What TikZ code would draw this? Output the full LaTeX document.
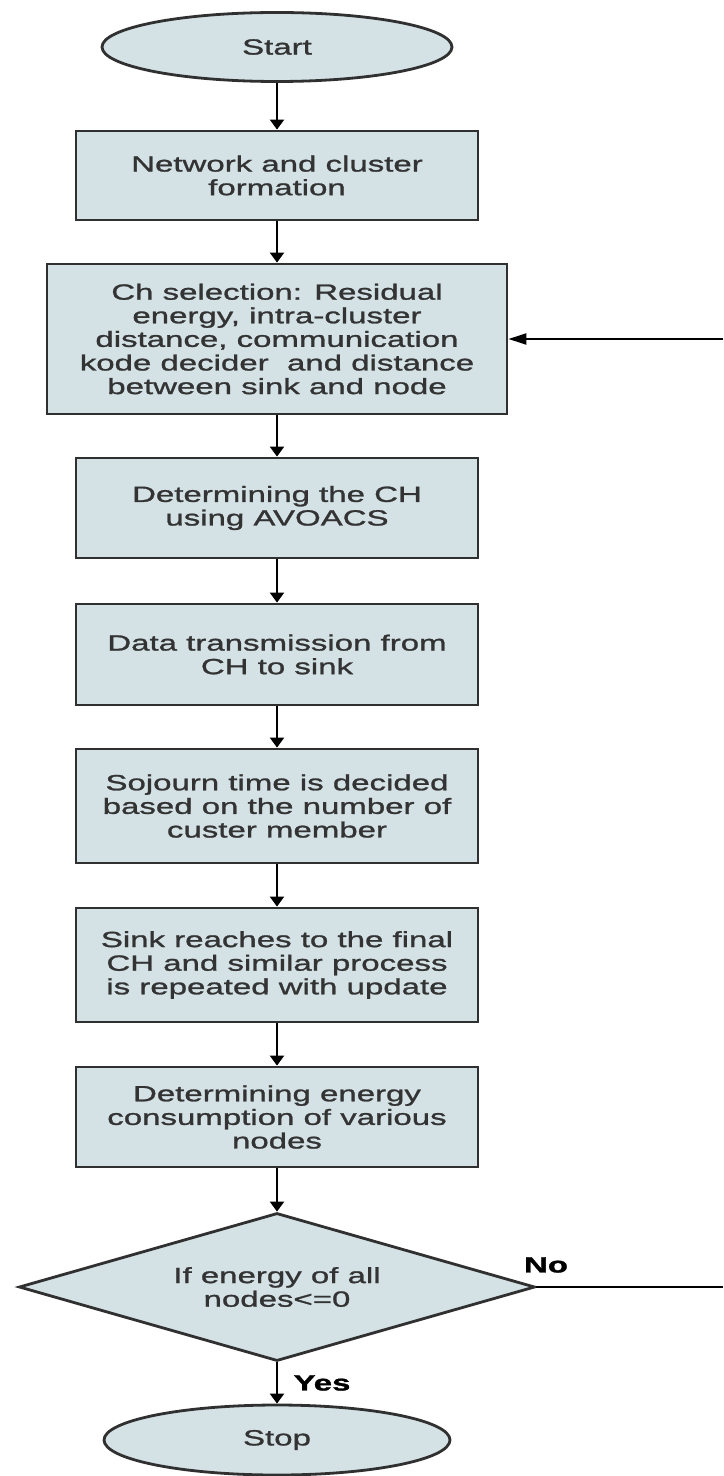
\documentclass[tikz,border=0pt]{standalone}
\usepackage{fontspec}
\setmainfont{Liberation Sans}
\newfontfamily\flowfont[FakeStretch=1.5,FakeBold=1.2]{Liberation Sans}
\usepackage{xcolor}
\usetikzlibrary{shapes,arrows.meta,positioning}

\definecolor{boxfill}{HTML}{D4E2E6}
\definecolor{boxline}{HTML}{303030}
\definecolor{boxtext}{HTML}{333333}

\begin{document}
\begin{tikzpicture}[x=0.5pt,y=-0.5pt,
    every node/.style={font=\flowfont\fontsize{11}{11.8}\selectfont, text=boxtext},
    procbox/.style={draw=boxline, line width=1.4pt, fill=boxfill, rectangle, align=center, inner sep=0pt, minimum width=201pt},
    terminal/.style={draw=boxline, line width=1.4pt, fill=boxfill, ellipse, inner sep=0pt},
    decision/.style={draw=boxline, line width=1.4pt, fill=boxfill, diamond, aspect=3.49, inner sep=0pt, align=center},
    flow/.style={line width=1.1pt, -{Triangle[length=5pt,width=7pt]}},
    backflow/.style={line width=1.1pt, -{Triangle[length=9pt,width=5.5pt]}},
    answer/.style={font=\flowfont\bfseries\fontsize{11}{12}\selectfont, text=black}]
    \useasboundingbox (0,0) rectangle (723,1476);

    % main column
    \node[terminal, minimum width=175pt, minimum height=34.5pt] (start) at (277,47) {Start};
    \node[procbox, minimum height=44.5pt] (net) at (277,175.5) {Network and cluster\\formation};
    \node[procbox, minimum width=230pt, minimum height=75pt] (chsel) at (277,339) {Ch selection: Residual\\energy, intra-cluster\\distance, communication\\kode decider~ and distance\\between sink and node};
    \node[procbox, minimum height=50pt] (avoacs) at (277,508) {Determining the CH\\using AVOACS};
    \node[procbox, minimum height=50.5pt] (trans) at (277,654.5) {Data transmission from\\CH to sink};
    \node[procbox, minimum height=57pt] (sojourn) at (277,806) {Sojourn time is decided\\based on the number of\\custer member};
    \node[procbox, minimum height=57pt] (reach) at (277,965) {Sink reaches to the final\\CH and similar process\\is repeated with update};
    \node[procbox, minimum height=50pt] (energy) at (277,1117) {Determining energy\\consumption of various\\nodes};
    \node[decision, minimum width=258pt, minimum height=74pt] (check) at (277,1287) {If energy of all\\nodes<=0};
    \node[terminal, minimum width=173pt, minimum height=35pt] (stop) at (277,1440) {Stop};

    \foreach \a/\b in {start/net, net/chsel, chsel/avoacs, avoacs/trans, trans/sojourn, sojourn/reach, reach/energy, energy/check, check/stop}
        \draw[flow] (\a) -- (\b);

    % loop back (leaves the picture on the right)
    \coordinate (noend) at (723,1287);
    \coordinate (backin) at (723,339);
    \draw[line width=1.1pt] (check.east) -- (noend);
    \draw[backflow] (backin) -- (chsel.east);

    \node[answer] (nolbl) at (546,1265) {No};
    \node[answer] (yeslbl) at (322,1383) {Yes};
\end{tikzpicture}
\end{document}
